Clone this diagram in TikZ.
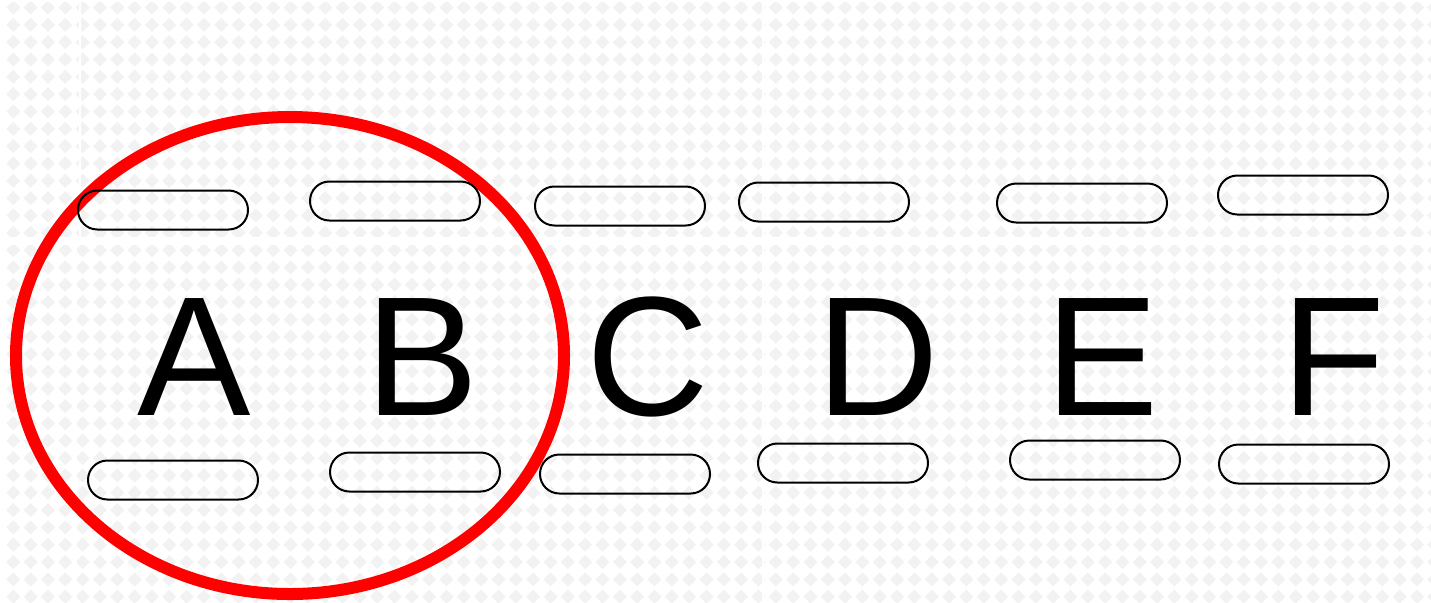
\documentclass[tikz,border=0pt]{standalone}
\usepackage{fontspec}
\setmainfont{Liberation Sans}
\usepackage{xcolor}

\definecolor{tilegray}{HTML}{F2F2F2}

\tikzset{
  pill/.style={draw=black,line width=1pt,rounded corners=9.7pt,
    minimum width=85pt,minimum height=19.5pt,inner sep=0pt},
  letter/.style={anchor=base,inner sep=0pt,font=\fontsize{85}{85}\selectfont},
  seam/.style={white,line width=1.2pt}
}

\begin{document}
\begin{tikzpicture}[x=0.5pt,y=-0.5pt,line cap=round]
\useasboundingbox (0,0) rectangle (1431,602);
% background tiles
\fill[white] (0,0) rectangle (1431,602);
\fill[tilegray] \foreach \i in {0,...,82} { \foreach \j in {0,...,34} {
  ({13.3+17.33*\i},{7.5+17.33*\j}) +(0,-7) -- +(7,0) -- +(0,7) -- +(-7,0) -- cycle } };
\fill[white] (0,237) rectangle (1431,245);
\fill[white] (0,0) rectangle (1431,2);
\draw[seam] (80,0) -- (80,237);
\draw[seam] (76,245) -- (76,602);
\draw[seam] (763,0) -- (763,602);
\draw[seam] (1217,0) -- (1217,602);
% red ring
\draw[red,line width=6pt] (290,355.5) ellipse [x radius=137pt,y radius=119.25pt];
% upper pills
\node[pill] (tA) at (163,210) {};
\node[pill] (tB) at (395,201) {};
\node[pill] (tC) at (620,206) {};
\node[pill] (tD) at (824,202) {};
\node[pill] (tE) at (1082,203) {};
\node[pill] (tF) at (1303,195) {};
% lower pills
\node[pill] (bA) at (173,480) {};
\node[pill] (bB) at (415,472) {};
\node[pill] (bC) at (625,474) {};
\node[pill] (bD) at (843,463) {};
\node[pill] (bE) at (1095,460) {};
\node[pill] (bF) at (1304,464) {};
% letters
\node[letter] (lA) at (194,415) {A};
\node[letter] (lB) at (422,415) {B};
\node[letter] (lC) at (648,415) {C};
\node[letter] (lD) at (878,415) {D};
\node[letter] (lE) at (1102,415) {E};
\node[letter] (lF) at (1333,415) {F};
\end{tikzpicture}
\end{document}
